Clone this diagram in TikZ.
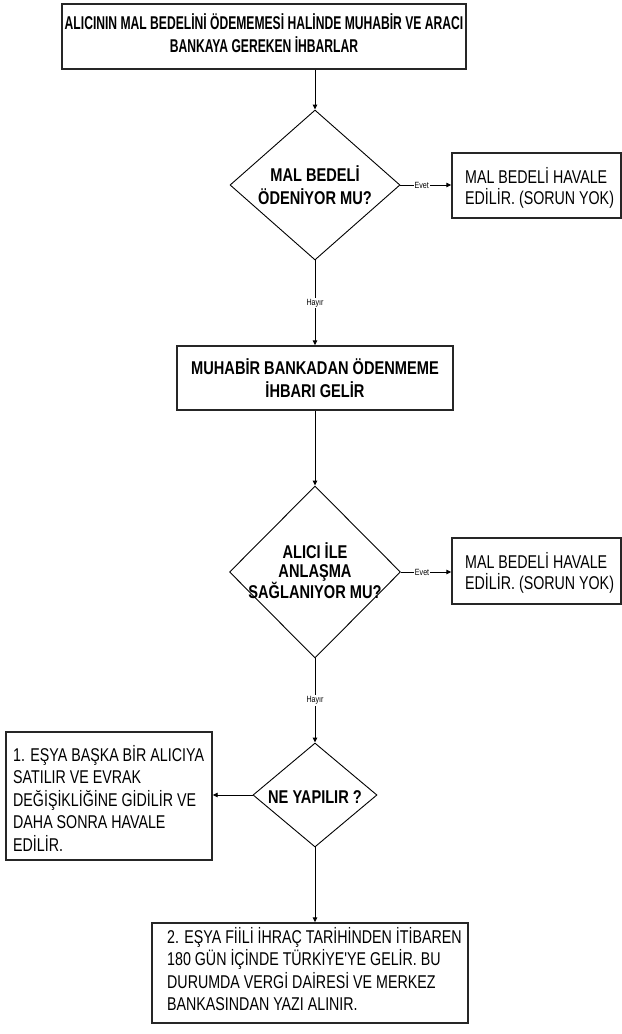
\documentclass[tikz,border=0pt]{standalone}
\usepackage{fontspec}
\setmainfont{Liberation Sans}[FakeStretch=0.79]
\newfontfamily\topfont{Liberation Sans}[FakeStretch=0.655]
\newfontfamily\regfont{Liberation Sans}[FakeStretch=0.77]
\usetikzlibrary{shapes.geometric,arrows.meta}
\tikzset{
  box/.style={draw=black!85, line width=1.4bp, rectangle, inner sep=0pt, anchor=center},
  dia/.style={draw=black, line width=0.9bp, diamond, inner sep=0pt, anchor=center},
  btxt/.style={align=center, font=\fontsize{18.5bp}{23bp}\selectfont\bfseries, inner sep=0pt},
  ltxt/.style={align=left, font=\fontsize{18.5bp}{22.5bp}\regfont, inner sep=0pt, anchor=north west},
  arr/.style={line width=0.9bp, -{Triangle[length=5bp,width=4.5bp]}},
  lab/.style={fill=white, inner sep=1bp, font=\fontsize{9bp}{10bp}\selectfont},
}
\begin{document}
\begin{tikzpicture}[x=1bp,y=-1bp]
\useasboundingbox (0,0) rectangle (622,1034);
% boxes
\node[box, minimum width=404bp, minimum height=65bp] (top) at (264,36.5) {};
\node[btxt, font=\fontsize{18.5bp}{23bp}\topfont\bfseries] (toptxt) at (264,33.5) {ALICININ MAL BEDELİNİ ÖDEMEMESİ HALİNDE MUHABİR VE ARACI\\BANKAYA GEREKEN İHBARLAR};
\node[dia, minimum width=170bp, minimum height=150bp] (d1) at (315,185) {};
\node[btxt] (d1t) at (315,185) {MAL BEDELİ\\ÖDENİYOR MU?};
\node[box, minimum width=169bp, minimum height=65bp] (r1) at (536.5,185.5) {};
\node[ltxt, font=\fontsize{18.5bp}{21bp}\regfont] (r1t) at (465,167) {MAL BEDELİ HAVALE\\EDİLİR. (SORUN YOK)};
\node[box, minimum width=276bp, minimum height=64bp] (b2) at (315,378) {};
\node[btxt] (b2t) at (315,378) {MUHABİR BANKADAN ÖDENMEME\\İHBARI GELİR};
\node[dia, minimum width=171bp, minimum height=172bp] (d2) at (315,572) {};
\node[btxt, font=\fontsize{18.5bp}{19bp}\selectfont\bfseries] (d2t) at (315,571) {ALICI İLE\\ANLAŞMA\\SAĞLANIYOR MU?};
\node[box, minimum width=169bp, minimum height=66bp] (r2) at (536.5,571) {};
\node[ltxt, font=\fontsize{18.5bp}{21bp}\regfont] (r2t) at (465,552) {MAL BEDELİ HAVALE\\EDİLİR. (SORUN YOK)};
\node[dia, minimum width=124bp, minimum height=104bp] (d3) at (315,795) {};
\node[btxt] (d3t) at (315,797) {NE YAPILIR ?};
\node[box, minimum width=206bp, minimum height=128bp] (lb) at (109,796) {};
\node[ltxt] (lbt) at (13,745) {1. EŞYA BAŞKA BİR ALICIYA\\SATILIR VE EVRAK\\DEĞİŞİKLİĞİNE GİDİLİR VE\\DAHA SONRA HAVALE\\EDİLİR.};
\node[box, minimum width=316bp, minimum height=100bp] (bb) at (310,973) {};
\node[ltxt] (bbt) at (167,927) {2. EŞYA FİİLİ İHRAÇ TARİHİNDEN İTİBAREN\\180 GÜN İÇİNDE TÜRKİYE'YE GELİR. BU\\DURUMDA VERGİ DAİRESİ VE MERKEZ\\BANKASINDAN YAZI ALINIR.};
% connectors
\draw[arr] (d1.north |- top.south) -- (d1.north);
\draw[arr] (d1.east) -- node[lab, pos=0.42] {Evet} (r1.west |- d1.east);
\draw[arr] (d1.south) -- node[lab] {Hayır} (b2.north -| d1.south);
\draw[arr] (b2.south -| d2.north) -- (d2.north);
\draw[arr] (d2.east) -- node[lab, pos=0.42] {Evet} (r2.west |- d2.east);
\draw[arr] (d2.south) -- node[lab] {Hayır} (d3.north);
\draw[arr] (d3.west) -- (lb.east |- d3.west);
\draw[arr] (d3.south) -- (bb.north -| d3.south);
\end{tikzpicture}
\end{document}
